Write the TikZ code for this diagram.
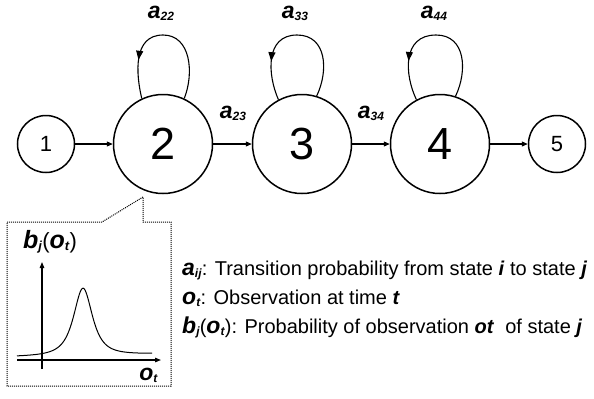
\documentclass[tikz,border=0pt]{standalone}
\usepackage{fontspec}
\setmainfont{Liberation Sans}
\usetikzlibrary{arrows.meta,decorations.markings}

% bold italic symbol with a bold italic subscript
\newcommand\bi[1]{\textbf{\textit{#1}}}
\newcommand\sbi[2][12]{\raisebox{-0.12em}{\fontsize{#1bp}{#1bp}\selectfont\bi{#2}}}
\newcommand\sym[4][23]{{\fontsize{#1bp}{#1bp}\selectfont\bi{#3}}\sbi[#2]{#4}}

\begin{document}
\begin{tikzpicture}[x=1bp,y=-1bp,
  font=\fontsize{20bp}{24bp}\selectfont,
  state/.style={circle,draw,line width=1.5bp,inner sep=0pt,minimum size=99bp,
    font=\fontsize{45bp}{45bp}\selectfont},
  endstate/.style={state,minimum size=57bp,font=\fontsize{22bp}{22bp}\selectfont},
  flow/.style={line width=1.1bp,-{Triangle[length=6bp,width=5bp]}},
  selfloop/.style={line width=1.1bp,postaction={decorate},
    decoration={markings,mark=at position 0.75 with {\arrow{Triangle[length=9bp,width=7bp]}}}},
  axis/.style={line width=1.2bp,-{Triangle[length=6bp,width=4.5bp]}},
  callout/.style={line width=1bp,dash pattern=on 1bp off 1bp},
  txt/.style={inner sep=0pt,anchor=base west},
  lbl/.style={inner sep=0pt,anchor=base}]
\useasboundingbox (0,0) rectangle (594,398);

% states of the chain
\node[endstate] (s1) at (46,144) {1};
\node[state]    (s2) at (163,144) {2};
\node[state]    (s3) at (302,144) {3};
\node[state]    (s4) at (440,144) {4};
\node[endstate] (s5) at (557,144) {5};

% forward transitions
\draw[flow] (s1) -- (s2);
\draw[flow] (s2) -- (s3);
\draw[flow] (s3) -- (s4);
\draw[flow] (s4) -- (s5);

% self transitions, each through the top of its loop
\coordinate (t2) at (163,35);
\coordinate (t3) at (297,35);
\coordinate (t4) at (436,35);
\draw[selfloop] (s2.65) .. controls +(10,-25) and +(28,0) .. (t2)
  .. controls +(-30,0) and +(-6,-25) .. (s2.115);
\draw[selfloop] (s3.73) .. controls +(12,-25) and +(30,0) .. (t3)
  .. controls +(-32,0) and +(-11,-25) .. (s3.118);
\draw[selfloop] (s4.72) .. controls +(12,-25) and +(30,0) .. (t4)
  .. controls +(-34,0) and +(-12,-25) .. (s4.118);

% transition labels
\node[lbl] (a22) at (161,18)  {\sym{12}{a}{22}};
\node[lbl] (a33) at (295,18)  {\sym{12}{a}{33}};
\node[lbl] (a44) at (434,18)  {\sym{12}{a}{44}};
\node[lbl] (a23) at (233,118) {\sym{12}{a}{23}};
\node[lbl] (a34) at (371,118) {\sym{12}{a}{34}};

% callout with the output distribution of state 2
\draw[callout] (7,222) -- (102,222) -- (143,197) -- (143,222) -- (171,222)
  -- (171,386) -- (7,386) -- cycle;
\draw[axis] (42,369) -- (42,262);
\draw[axis] (17,360) -- (161,360);
\draw[line width=1bp] plot[domain=17:152,samples=150,smooth]
  (\x,{356.5-0.02*(\x-17)-67/((1+((\x-83)/14.4)^2)^1.5)});
\node[txt] (bj) at (23,248) {\sym[25]{13}{b}{j}{\fontsize{22bp}{26bp}\selectfont(}\sym[25]{13}{o}{t}{\fontsize{22bp}{26bp}\selectfont)}};
\node[inner sep=0pt,anchor=base east] (ot) at (158,380) {\sym{12}{o}{t}};

% legend
\node[txt] (l1) at (182,275) {\sym{12}{a}{ij}: Transition probability from state \bi{i} to state \bi{j}};
\node[txt] (l2) at (182,304) {\sym{12}{o}{t}: Observation at time \bi{t}};
\node[txt] (l3) at (182,333) {\sym{12}{b}{j}(\sym{12}{o}{t}): Probability of observation \bi{ot}\ \ of state \bi{j}};
\end{tikzpicture}
\end{document}
